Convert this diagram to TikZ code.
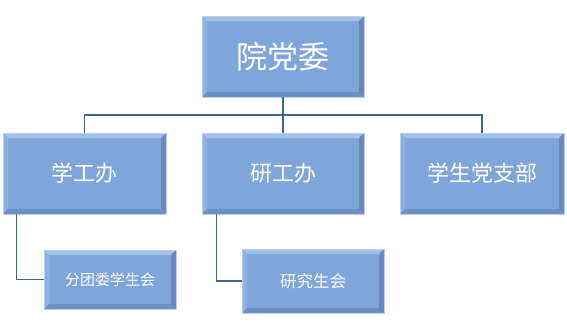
\documentclass[tikz,border=0pt]{standalone}
\usepackage{fontspec}
\setmainfont{Noto Sans CJK SC}
\definecolor{boxfill}{HTML}{7FA6DB}
\definecolor{bevlight}{HTML}{A3C0E8}
\definecolor{bevdark}{HTML}{6889BC}
\definecolor{bevmid}{HTML}{8FB1E0}
\definecolor{boxedge}{HTML}{B9CFEE}
\definecolor{conncol}{HTML}{44648F}
\tikzset{
  bevelbox/.style={
    rectangle, inner sep=0pt, fill=boxfill, draw=boxedge, line width=0.6pt,
    text=white, align=center,
    path picture={
      \def\bw{5pt}
      \fill[bevlight] (path picture bounding box.north west) -- (path picture bounding box.north east)
        -- ([xshift=-\bw,yshift=-\bw]path picture bounding box.north east)
        -- ([xshift=\bw,yshift=-\bw]path picture bounding box.north west) -- cycle;
      \fill[bevmid] (path picture bounding box.north west) -- (path picture bounding box.south west)
        -- ([xshift=\bw,yshift=\bw]path picture bounding box.south west)
        -- ([xshift=\bw,yshift=-\bw]path picture bounding box.north west) -- cycle;
      \fill[bevdark] (path picture bounding box.north east) -- (path picture bounding box.south east)
        -- ([xshift=-\bw,yshift=\bw]path picture bounding box.south east)
        -- ([xshift=-\bw,yshift=-\bw]path picture bounding box.north east) -- cycle;
      \fill[bevdark!80!boxfill] (path picture bounding box.south west) -- (path picture bounding box.south east)
        -- ([xshift=-\bw,yshift=\bw]path picture bounding box.south east)
        -- ([xshift=\bw,yshift=\bw]path picture bounding box.south west) -- cycle;
    }
  },
  conn/.style={draw=conncol, line width=1.3pt}
}
\begin{document}
\begin{tikzpicture}[x=1pt,y=-1pt]
\useasboundingbox (0,0) rectangle (567,333);
\node[bevelbox, minimum width=162pt, minimum height=81pt, font=\fontsize{31}{34}\selectfont] (top) at (283,56.5) {院党委};
\node[bevelbox, minimum width=163pt, minimum height=81pt, font=\fontsize{22}{26}\selectfont] (xgb) at (84.5,173.5) {学工办};
\node[bevelbox, minimum width=162pt, minimum height=81pt, font=\fontsize{22}{26}\selectfont] (ygb) at (283,173.5) {研工办};
\node[bevelbox, minimum width=164pt, minimum height=81pt, font=\fontsize{22}{26}\selectfont] (dzb) at (482,173.5) {学生党支部};
\node[bevelbox, minimum width=132pt, minimum height=59pt, font=\fontsize{15}{18}\selectfont] (ftw) at (110,279.5) {分团委学生会};
\node[bevelbox, minimum width=142pt, minimum height=64pt, font=\fontsize{16.5}{20}\selectfont] (ysh) at (313,281) {研究生会};
\coordinate (bus) at (0,115);
\draw[conn] (top.south) -- (top.south |- bus) -| (xgb.north);
\draw[conn] (top.south |- bus) -| (dzb.north);
\draw[conn] (top.south |- bus) -- (ygb.north);
\draw[conn] ([xshift=14pt]xgb.south west) |- (ftw.west);
\draw[conn] ([xshift=15pt]ygb.south west) |- (ysh.west);
\end{tikzpicture}
\end{document}
